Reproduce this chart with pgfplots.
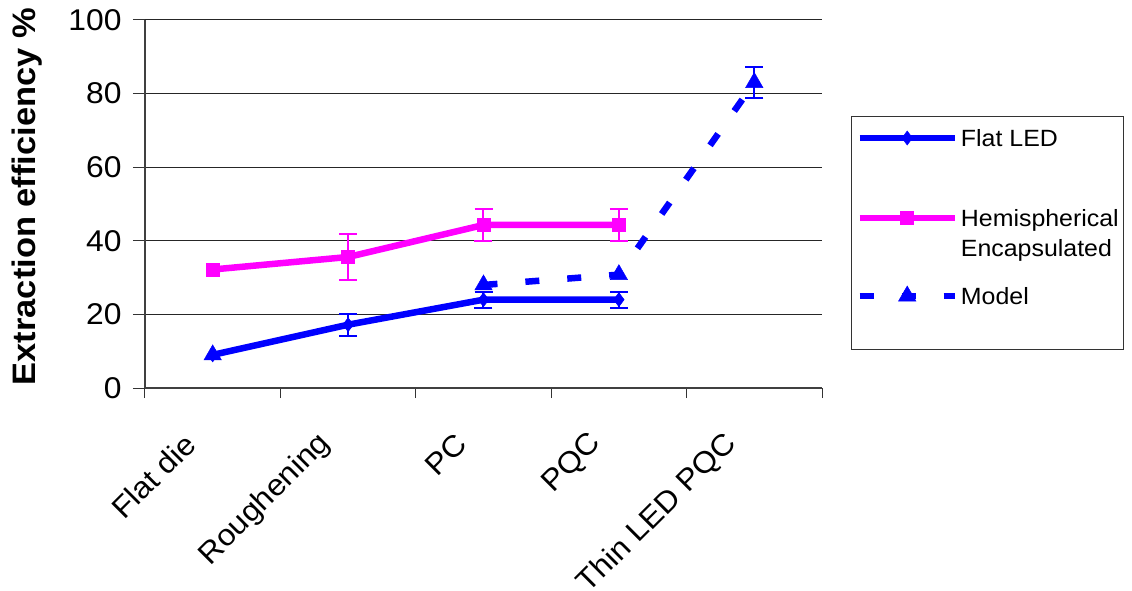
\documentclass[border=0pt]{standalone}
\usepackage{pgfplots}
\pgfplotsset{compat=1.18}
\usepackage{fontspec}
\setmainfont{Liberation Sans}[FakeStretch=1.06]
\definecolor{lblue}{RGB}{0,0,255}
\definecolor{lmag}{RGB}{255,0,255}
\begin{document}
\begin{tikzpicture}
\path[use as bounding box] (-145pt,-203pt) rectangle (987pt,388pt);
\begin{axis}[
  at={(0pt,0pt)}, anchor=south west,
  width=677pt, height=368pt, scale only axis,
  xmin=-0.5, xmax=4.5, ymin=0, ymax=100,
  axis x line*=bottom, axis y line*=left,
  axis line style={line width=1.6pt, color=black!75},
  xtick={0,1,2,3,4},
  xticklabels={Flat die, Roughening, PC, PQC, Thin LED PQC},
  major x tick style={draw=none},
  minor xtick={-0.5,0.5,1.5,2.5,3.5,4.5},
  minor x tick style={line width=1pt, black!80},
  minor tick length=10pt,
  ytick={0,20,40,60,80,100},
  major tick length=12pt,
  major y tick style={line width=1pt, black!80},
  tick align=outside,
  ymajorgrids, grid style={line width=1pt, black!85},
  /pgf/number format/assume math mode=true,
  tick label style={font=\fontsize{30}{36}\selectfont},
  yticklabel style={xshift=-8pt},
  xticklabel style={rotate=45, anchor=east, xshift=-40pt, yshift=-12pt},
  ylabel={Extraction efficiency \%},
  ylabel style={font=\fontsize{32.5}{40}\selectfont\bfseries, at={(axis description cs:-0.174,0.52)}, anchor=center},
  unbounded coords=jump,
  legend image code/.code={%
    \draw[mark repeat=2, mark phase=2, #1] plot coordinates {(0pt,8.5pt) (47.5pt,8.5pt) (95pt,8.5pt)};},
  legend style={at={(1.0428,0.7391)}, anchor=north west, draw=black!80, line width=1pt,
    inner xsep=5pt, inner ysep=0pt, row sep=0pt, column sep=3pt,
    font=\fontsize{23.5}{30}\selectfont,
    nodes={inner sep=0pt, text depth=}, cells={anchor=base west}},
]
% Flat LED
\addplot[color=lblue, line width=6.5pt, mark=diamond*, mark size=7pt, mark options={solid, line width=0.5pt}]
  coordinates {(0,9) (1,17.2) (2,24) (3,24)};
\addlegendentry{\rule[-59pt]{0pt}{89pt}Flat LED}
% Hemispherical Encapsulated
\addplot[color=lmag, line width=6.5pt, mark=square*, mark size=6.5pt, mark options={solid, line width=0.5pt}]
  coordinates {(0,32.2) (1,35.6) (2,44.3) (3,44.3)};
\addlegendentry{\begin{tabular}[t]{@{}l@{}}Hemispherical\\Encapsulated\end{tabular}}
% Model
\addplot[color=lblue, line width=6.5pt, dash pattern=on 14pt off 28pt, mark=triangle*, mark size=10pt, mark options={solid, line width=0.5pt}]
  coordinates {(0,9) (1,nan) (2,28) (3,30.8) (4,83)};
\addlegendentry{\rule[-45pt]{0pt}{84pt}Model}
% error bars
\addplot[color=lblue, only marks, mark=none, forget plot,
  error bars/.cd, y dir=both, y explicit,
  error bar style={line width=2pt, solid},
  error mark options={rotate=90, line width=2pt, mark size=9pt}]
  coordinates {(1,17.2) +- (0,3) (2,24) +- (0,2.2) (3,24) +- (0,2.2) (4,83) +- (0,4.2)};
\addplot[color=lmag, only marks, mark=none, forget plot,
  error bars/.cd, y dir=both, y explicit,
  error bar style={line width=2pt, solid},
  error mark options={rotate=90, line width=2pt, mark size=9pt}]
  coordinates {(1,35.6) +- (0,6.2) (2,44.3) +- (0,4.3) (3,44.3) +- (0,4.3)};
\end{axis}
\end{tikzpicture}
\end{document}
